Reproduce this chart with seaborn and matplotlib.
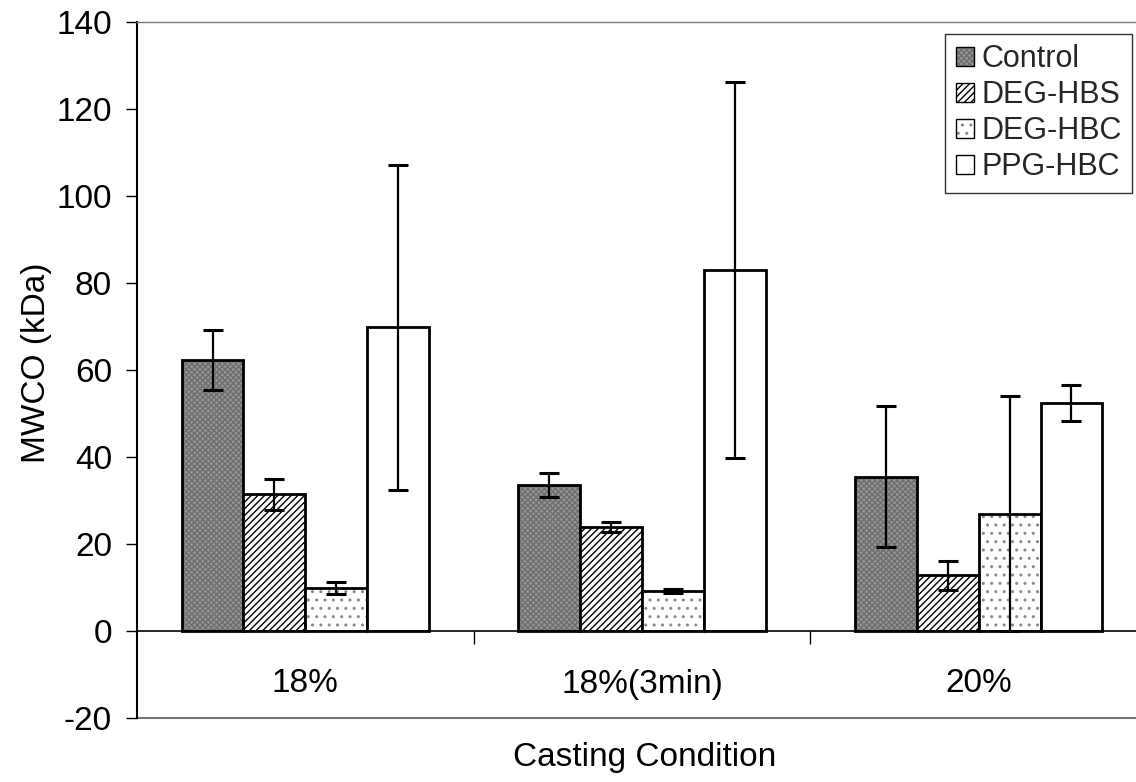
import matplotlib
matplotlib.use("Agg")
import matplotlib.pyplot as plt
import matplotlib.colors as mcolors
from matplotlib.patches import Patch
from matplotlib.ticker import FixedLocator
import seaborn as sns
import pandas as pd
import numpy as np

# ---- data ----
conditions = ["18%", "18%(3min)", "20%"]
series = ["Control", "DEG-HBS", "DEG-HBC", "PPG-HBC"]
control = [62.4, 33.5, 35.5]
deg_hbs = [31.4, 23.9, 12.8]
deg_hbc = [9.8, 9.2, 27.0]
ppg_hbc = [69.8, 83.0, 52.4]
control_err = [6.9, 2.8, 16.3]
deg_hbs_err = [3.6, 1.2, 3.4]
deg_hbc_err = [1.4, 0.4, 27.0]
ppg_hbc_err = [37.4, 43.3, 4.1]
yticks = [-20, 0, 20, 40, 60, 80, 100, 120, 140]

values = [control, deg_hbs, deg_hbc, ppg_hbc]
errors = [control_err, deg_hbs_err, deg_hbc_err, ppg_hbc_err]

df = pd.DataFrame({
    "Casting Condition": [c for s in series for c in conditions],
    "Series": [s for s in series for c in conditions],
    "MWCO": [v for vals in values for v in vals],
})

sns.set_theme(style="white")
plt.rcParams["font.family"] = ["Liberation Sans", "DejaVu Sans"]
plt.rcParams["hatch.linewidth"] = 1.0
plt.rcParams["axes.unicode_minus"] = False

W, H = 1136, 782
fig = plt.figure(figsize=(W / 100, H / 100), dpi=100)
left, right, top, bottom = 137, 1147, 22, 718
ax = fig.add_axes([left / W, 1 - bottom / H, (right - left) / W, (bottom - top) / H])

faces = ["#959595", "white", "white", "white"]
hatches = ["xxxxxx", "/////", "..", None]
hatch_colors = ["#6e6e6e", "black", "#8a8a8a", "black"]
palette = dict(zip(series, faces))

sns.barplot(data=df, x="Casting Condition", y="MWCO", hue="Series",
            hue_order=series, order=conditions, palette=palette,
            width=0.735, edgecolor="black", linewidth=2.0,
            legend=False, errorbar=None, ax=ax, saturation=1)


def style_patch(p, i):
    if hatches[i]:
        p.set_hatch(hatches[i])
        p._hatch_color = mcolors.to_rgba(hatch_colors[i])


bar_containers = list(ax.containers)
for i, cont in enumerate(bar_containers):
    xs = []
    for bar in cont:
        style_patch(bar, i)
        xs.append(bar.get_x() + bar.get_width() / 2)
    ax.errorbar(xs, values[i], yerr=errors[i], fmt="none", ecolor="black",
                elinewidth=1.6, capsize=7, capthick=2.2, zorder=5)

ax.set_ylim(-20, 140)
ax.set_xlim(-0.5, 2.5)
ax.set_yticks(yticks)
ax.tick_params(axis="y", labelsize=24, length=8, width=1, direction="out",
               left=True, pad=10, colors="black")

# x axis at zero
ax.spines["bottom"].set_position(("data", 0))
ax.spines["bottom"].set_color("black")
ax.spines["bottom"].set_linewidth(1.2)
ax.spines["left"].set_color("black")
ax.spines["left"].set_linewidth(1.5)
ax.spines["top"].set_color("#777777")
ax.spines["top"].set_linewidth(1.0)
ax.spines["right"].set_visible(False)
ax.axhline(-20, color="#777777", linewidth=1.5, clip_on=False)

ax.set_xticks([0, 1, 2])
ax.set_xticklabels(conditions)
ax.xaxis.set_minor_locator(FixedLocator([0.5, 1.5]))
ax.tick_params(axis="x", which="major", length=0, labelsize=24, pad=27,
               colors="black")
ax.tick_params(axis="x", which="minor", length=9, width=1, direction="out",
               bottom=True, colors="black")

ax.set_xlabel("Casting Condition", fontsize=24, color="black")
ax.set_ylabel("MWCO (kDa)", fontsize=24, color="black")
ax.xaxis.set_label_coords((645 - left) / (right - left), (bottom - 742) / (bottom - top))
ax.yaxis.set_label_coords((52 - left) / (right - left), (bottom - 363) / (bottom - top))

handles = [Patch(facecolor=faces[i], edgecolor="black", hatch=hatches[i],
                 linewidth=1.0, label=series[i]) for i in range(4)]
leg = fig.legend(handles=handles, loc="upper right",
                 bbox_to_anchor=(1132 / W, 1 - 34 / H),
                 bbox_transform=fig.transFigure, frameon=True, fancybox=False,
                 shadow=False, fontsize=22, handlelength=0.6, handleheight=0.6,
                 handletextpad=0.25, borderpad=0.33, labelspacing=0.2,
                 borderaxespad=0)
for i, p in enumerate(leg.get_patches()):
    style_patch(p, i)
leg.get_frame().set_edgecolor("black")
leg.get_frame().set_linewidth(1.0)

fig.savefig("out.png", dpi=100)
